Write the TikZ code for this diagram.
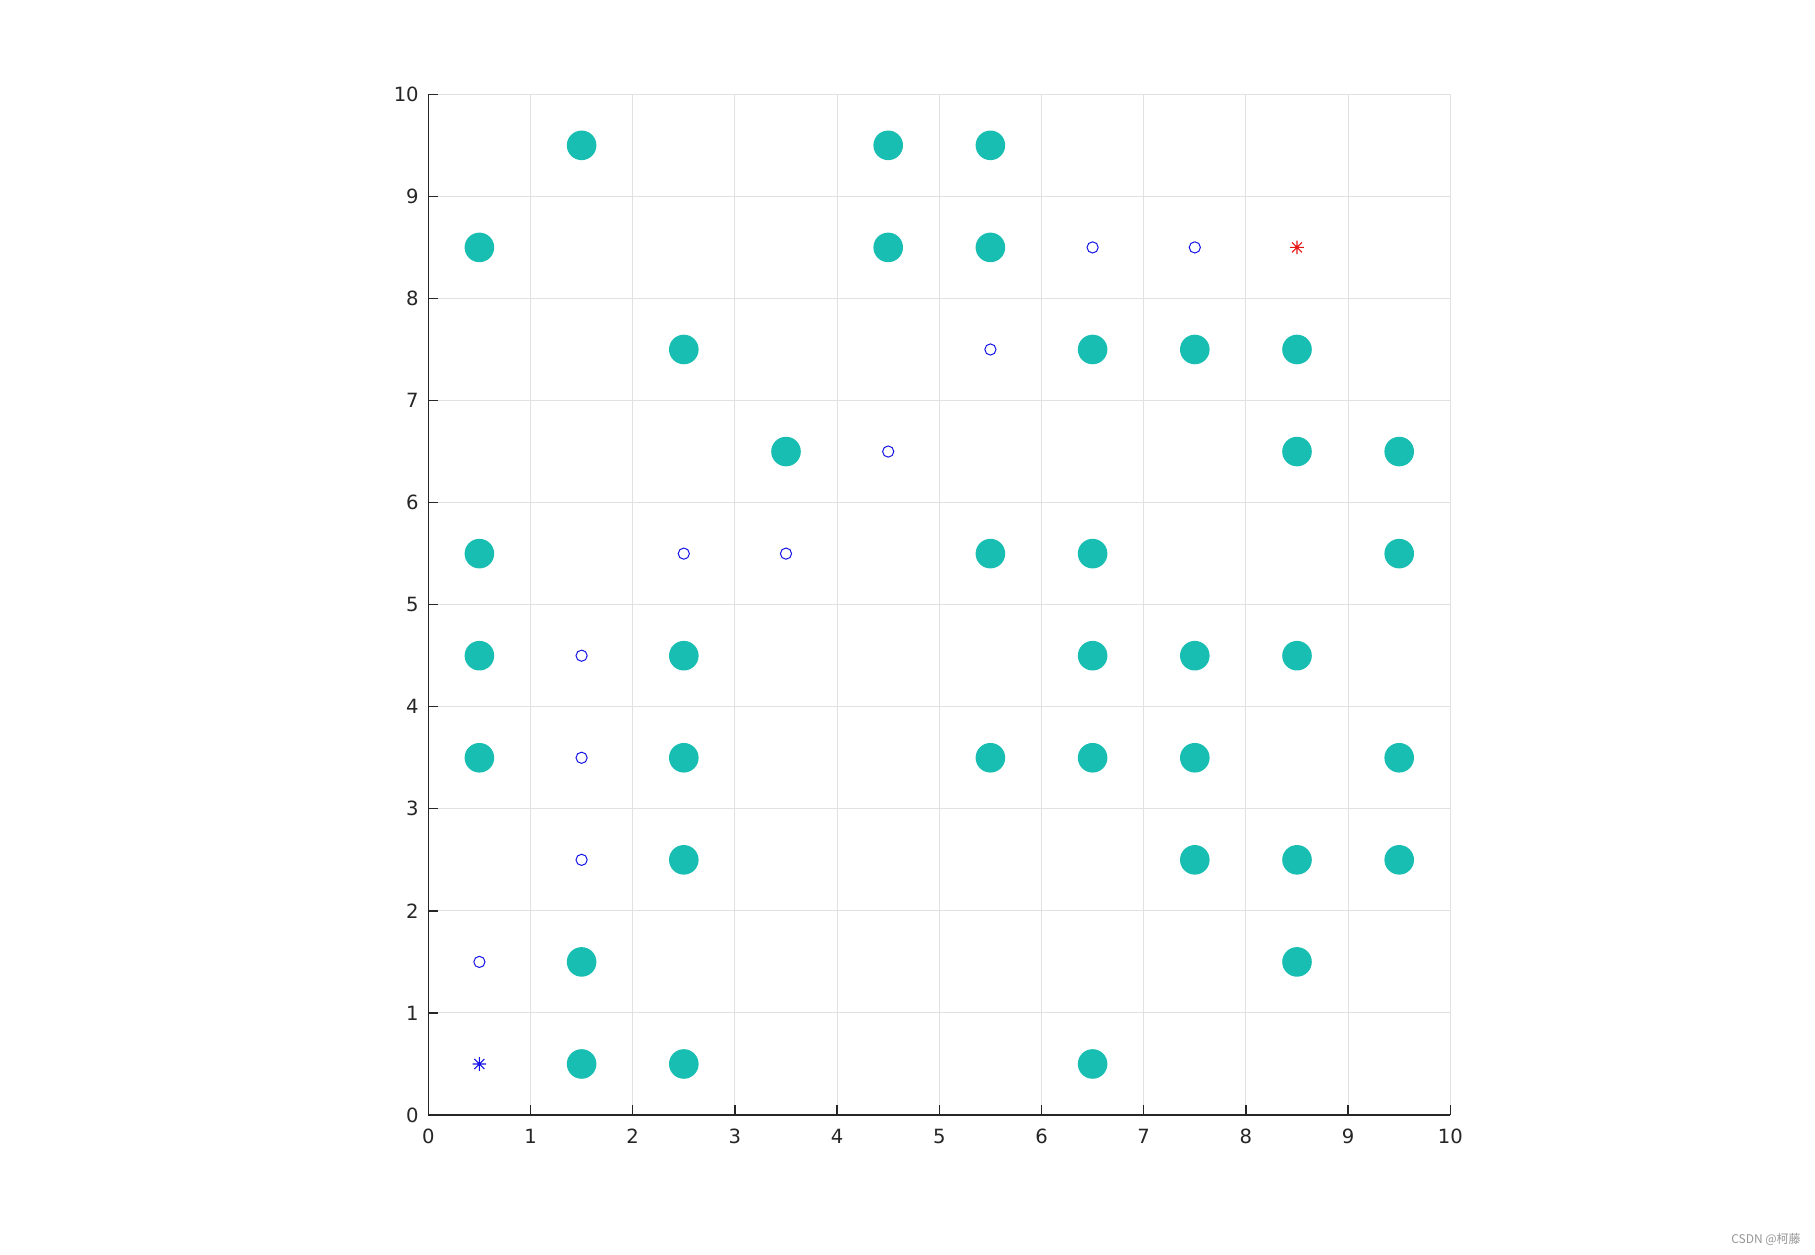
\documentclass[tikz,border=0pt]{standalone}
\usepackage{fontspec}
\setmainfont{DejaVu Sans}
\newfontfamily\cjk{Noto Sans CJK SC}
\definecolor{tealdot}{RGB}{24,190,178}
\definecolor{axcol}{RGB}{38,38,38}
\definecolor{gridcol}{RGB}{225,225,225}
\definecolor{markblue}{RGB}{20,20,230}
\definecolor{markred}{RGB}{230,20,20}
\definecolor{wmark}{RGB}{150,150,150}
\begin{document}
\begin{tikzpicture}[x=0.5pt,y=-0.5pt,
  gridline/.style={draw=gridcol,line width=0.5pt},
  axisline/.style={draw=axcol,line width=0.65pt},
  ticklab/.style={text=axcol,inner sep=0pt,font=\fontsize{9.8}{11}\selectfont},
  bigdot/.style={fill=tealdot,draw=none},
  opendot/.style={draw=markblue,line width=0.5pt,fill=none}]
\useasboundingbox[fill=white] (0,0) rectangle (1815,1254);
\begin{scope}[shift={(428.3,1115)},x=51.1pt,y=51.035pt]
  % grid
  \foreach \i in {1,...,10}{
    \draw[gridline] (\i,0) -- (\i,10);
    \draw[gridline] (0,\i) -- (10,\i);
  }
  % axes
  \draw[axisline] (0,10) -- (0,0) -- (10,0);
  \foreach \i in {0,...,10}{
    \draw[axisline] (\i,0) -- ++(0,5pt);
    \draw[axisline] (0,\i) -- ++(5pt,0);
    \node[ticklab,anchor=north] (xl\i) at ([yshift=-7pt]\i,0) {\i};
    \node[ticklab,anchor=east] (yl\i) at ([xshift=-4.6pt]0,\i) {\i};
  }
  % filled obstacles
  \foreach \x/\y in {1.5/9.5,4.5/9.5,5.5/9.5,
    0.5/8.5,4.5/8.5,5.5/8.5,
    2.5/7.5,6.5/7.5,7.5/7.5,8.5/7.5,
    3.5/6.5,8.5/6.5,9.5/6.5,
    0.5/5.5,5.5/5.5,6.5/5.5,9.5/5.5,
    0.5/4.5,2.5/4.5,6.5/4.5,7.5/4.5,8.5/4.5,
    0.5/3.5,2.5/3.5,5.5/3.5,6.5/3.5,7.5/3.5,9.5/3.5,
    2.5/2.5,7.5/2.5,8.5/2.5,9.5/2.5,
    1.5/1.5,8.5/1.5,
    1.5/0.5,2.5/0.5,6.5/0.5}{
    \fill[bigdot] (\x,\y) circle (7.4pt);
  }
  % path points
  \foreach \x/\y in {6.5/8.5,7.5/8.5,5.5/7.5,4.5/6.5,2.5/5.5,3.5/5.5,
    1.5/4.5,1.5/3.5,1.5/2.5,0.5/1.5}{
    \draw[opendot] (\x,\y) circle (2.8pt);
  }
  % start and goal stars
  \foreach \x/\y/\c in {0.5/0.5/markblue,8.5/8.5/markred}{
    \draw[\c,line width=0.55pt]
      ([xshift=-3.4pt]\x,\y) -- ([xshift=3.4pt]\x,\y)
      ([yshift=-3.4pt]\x,\y) -- ([yshift=3.4pt]\x,\y)
      ([shift={(-2.5pt,-2.5pt)}]\x,\y) -- ([shift={(2.5pt,2.5pt)}]\x,\y)
      ([shift={(-2.5pt,2.5pt)}]\x,\y) -- ([shift={(2.5pt,-2.5pt)}]\x,\y);
  }
\end{scope}
\node[text=wmark,inner sep=0pt,font=\cjk\fontsize{6}{7}\selectfont] (wm) at (1766,1239) {CSDN @柯藤};
\end{tikzpicture}
\end{document}
